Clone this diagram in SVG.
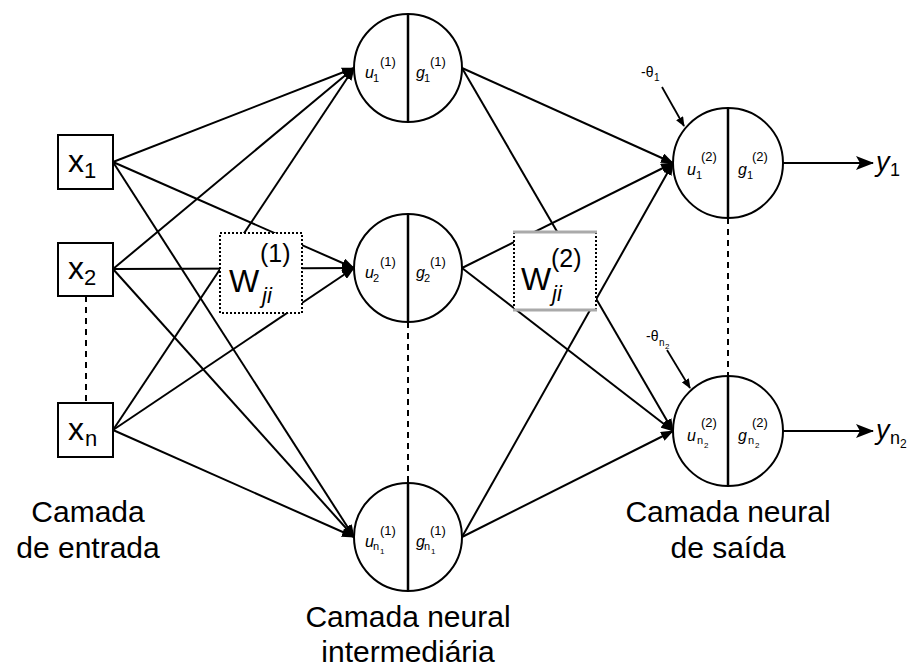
<svg xmlns="http://www.w3.org/2000/svg" width="918" height="668" viewBox="0 0 918 668">
  <defs>
    <marker id="arr" markerUnits="userSpaceOnUse" markerWidth="13" markerHeight="10" refX="12" refY="5" orient="auto">
      <path d="M0,0 L13,5 L0,10 z" fill="#000"/>
    </marker>
    <marker id="arrBig" markerUnits="userSpaceOnUse" markerWidth="18" markerHeight="14" refX="17" refY="7" orient="auto">
      <path d="M0,0 L18,7 L0,14 L4,7 z" fill="#000"/>
    </marker>
    <marker id="arrSmall" markerUnits="userSpaceOnUse" markerWidth="10" markerHeight="8" refX="9" refY="4" orient="auto">
      <path d="M0,0 L10,4 L0,8 z" fill="#000"/>
    </marker>
  </defs>
  <style>
    text { font-family: "Liberation Sans", Arial, sans-serif; fill: #000; }
    .conn { stroke: #000; stroke-width: 2; fill: none; marker-end: url(#arr); }
    .out { stroke: #000; stroke-width: 2.2; fill: none; marker-end: url(#arrBig); }
    .bias { stroke: #000; stroke-width: 1.8; fill: none; marker-end: url(#arrSmall); }
    .dash { stroke: #000; stroke-width: 2; stroke-dasharray: 6 5; fill: none; }
    .box { fill: #fff; stroke: #000; stroke-width: 2; }
    .neuron { fill: #fff; stroke: #000; stroke-width: 2; }
    .split { stroke: #000; stroke-width: 2.5; }
    .xin { font-size: 32px; }
    .xsub { font-size: 22px; }
    .lbl { font-size: 30px; text-anchor: middle; }
    .nv { font-size: 16px; font-style: italic; }
    .ns { font-size: 11px; }
    .nss { font-size: 8px; }
    .np { font-size: 13px; }
    .wl { font-size: 32px; }
    .wp { font-size: 25px; }
    .wj { font-size: 22px; font-style: italic; }
    .yl { font-size: 27px; font-style: italic; }
    .ys { font-size: 18px; }
    .th { font-size: 14px; }
    .ths { font-size: 10px; }
  </style>

  <rect width="918" height="668" fill="#fff"/>

  <!-- connectors -->
  <g id="connectors">
    <!-- inputs to hidden layer -->
    <line class="conn" x1="113" y1="162" x2="354" y2="68"/>
    <line class="conn" x1="113" y1="162" x2="354" y2="268"/>
    <line class="conn" x1="113" y1="162" x2="354" y2="537"/>
    <line class="conn" x1="113" y1="269" x2="354" y2="68"/>
    <line class="conn" x1="113" y1="269" x2="354" y2="268"/>
    <line class="conn" x1="113" y1="269" x2="354" y2="537"/>
    <line class="conn" x1="113" y1="430" x2="354" y2="68"/>
    <line class="conn" x1="113" y1="430" x2="354" y2="268"/>
    <line class="conn" x1="113" y1="430" x2="354" y2="537"/>
    <!-- hidden to output layer -->
    <line class="conn" x1="462" y1="68" x2="673" y2="163"/>
    <line class="conn" x1="462" y1="68" x2="673" y2="431"/>
    <line class="conn" x1="462" y1="268" x2="673" y2="163"/>
    <line class="conn" x1="462" y1="268" x2="673" y2="431"/>
    <line class="conn" x1="462" y1="537" x2="673" y2="163"/>
    <line class="conn" x1="462" y1="537" x2="673" y2="431"/>
    <!-- outputs -->
    <line class="out" x1="783" y1="163" x2="873" y2="163"/>
    <line class="out" x1="783" y1="431" x2="873" y2="431"/>
    <!-- biases -->
    <line class="bias" x1="662" y1="87" x2="684" y2="126"/>
    <line class="bias" x1="667" y1="350" x2="690" y2="388"/>
    <!-- ellipsis links -->
    <line class="dash" x1="86" y1="296" x2="86" y2="403"/>
    <line class="dash" x1="408" y1="322" x2="408" y2="483"/>
    <line class="dash" x1="728" y1="218" x2="728" y2="376"/>
  </g>

  <!-- input layer -->
  <g id="x1">
    <rect class="box" x="58" y="135" width="55" height="54"/>
    <text class="xin" x="68" y="172">x</text><text class="xsub" x="84" y="178">1</text>
  </g>
  <g id="x2">
    <rect class="box" x="58" y="243" width="55" height="53"/>
    <text class="xin" x="68" y="279">x</text><text class="xsub" x="84" y="285">2</text>
  </g>
  <g id="xn">
    <rect class="box" x="58" y="403" width="55" height="54"/>
    <text class="xin" x="68" y="440">x</text><text class="xsub" x="85" y="446">n</text>
  </g>

  <!-- weight matrices -->
  <g id="w1">
    <rect x="220" y="233" width="82" height="80" fill="#fff" stroke="#000" stroke-width="2" stroke-dasharray="2 2"/>
    <text class="wl" x="229" y="292">W</text>
    <text class="wp" x="260" y="262">(1)</text>
    <text class="wj" x="262" y="303">ji</text>
  </g>
  <g id="w2">
    <rect x="514" y="232" width="82" height="78" fill="#fff" stroke="none"/>
    <line x1="514" y1="232" x2="514" y2="310" stroke="#000" stroke-width="2" stroke-dasharray="2 2"/>
    <line x1="596" y1="232" x2="596" y2="310" stroke="#000" stroke-width="2" stroke-dasharray="2 2"/>
    <line x1="513" y1="232" x2="597" y2="232" stroke="#aaa" stroke-width="3"/>
    <line x1="513" y1="310" x2="597" y2="310" stroke="#aaa" stroke-width="3"/>
    <text class="wl" x="521" y="290">W</text>
    <text class="wp" x="551" y="267">(2)</text>
    <text class="wj" x="552" y="301">ji</text>
  </g>

  <!-- hidden layer -->
  <g id="h1">
    <circle class="neuron" cx="408" cy="68" r="54"/>
    <line class="split" x1="408" y1="14" x2="408" y2="122"/>
    <text class="nv" x="365" y="78">u</text><text class="ns" x="373" y="82">1</text><text class="np" x="380" y="66">(1)</text>
    <text class="nv" x="416" y="78">g</text><text class="ns" x="424" y="82">1</text><text class="np" x="430" y="66">(1)</text>
  </g>
  <g id="h2">
    <circle class="neuron" cx="408" cy="268" r="54"/>
    <line class="split" x1="408" y1="214" x2="408" y2="322"/>
    <text class="nv" x="365" y="278">u</text><text class="ns" x="373" y="282">2</text><text class="np" x="380" y="266">(1)</text>
    <text class="nv" x="416" y="278">g</text><text class="ns" x="424" y="282">2</text><text class="np" x="430" y="266">(1)</text>
  </g>
  <g id="hn">
    <circle class="neuron" cx="408" cy="537" r="54"/>
    <line class="split" x1="408" y1="483" x2="408" y2="591"/>
    <text class="nv" x="365" y="547">u</text><text class="ns" x="373" y="550">n</text><text class="nss" x="380" y="554">1</text><text class="np" x="380" y="535">(1)</text>
    <text class="nv" x="416" y="547">g</text><text class="ns" x="424" y="550">n</text><text class="nss" x="431" y="554">1</text><text class="np" x="430" y="535">(1)</text>
  </g>

  <!-- output layer -->
  <g id="o1">
    <circle class="neuron" cx="728" cy="163" r="55"/>
    <line class="split" x1="728" y1="108" x2="728" y2="218"/>
    <text class="nv" x="687" y="175">u</text><text class="ns" x="696" y="179">1</text><text class="np" x="701" y="161">(2)</text>
    <text class="nv" x="738" y="175">g</text><text class="ns" x="747" y="179">1</text><text class="np" x="752" y="161">(2)</text>
  </g>
  <g id="o2">
    <circle class="neuron" cx="728" cy="431" r="55"/>
    <line class="split" x1="728" y1="376" x2="728" y2="486"/>
    <text class="nv" x="687" y="441">u</text><text class="ns" x="697" y="444">n</text><text class="nss" x="704" y="448">2</text><text class="np" x="701" y="427">(2)</text>
    <text class="nv" x="738" y="441">g</text><text class="ns" x="748" y="444">n</text><text class="nss" x="755" y="448">2</text><text class="np" x="752" y="427">(2)</text>
  </g>

  <!-- biases -->
  <g id="theta1">
    <text class="th" x="641" y="77">-θ</text><text class="ths" x="654" y="81">1</text>
  </g>
  <g id="theta2">
    <text class="th" x="646" y="341">-θ</text><text class="ths" x="659" y="346">n</text><text class="nss" x="665" y="349">2</text>
  </g>

  <!-- outputs -->
  <g id="y1">
    <text class="yl" x="876" y="171">y</text><text class="ys" x="890" y="176">1</text>
  </g>
  <g id="yn">
    <text class="yl" x="876" y="439">y</text><text class="ys" x="890" y="444">n</text><text class="nss" x="900" y="448" style="font-size:12px">2</text>
  </g>

  <!-- layer captions -->
  <g id="captions">
    <text class="lbl" x="88" y="522">Camada</text>
    <text class="lbl" x="88" y="558">de entrada</text>
    <text class="lbl" x="408" y="627">Camada neural</text>
    <text class="lbl" x="408" y="662">intermediária</text>
    <text class="lbl" x="728" y="522">Camada neural</text>
    <text class="lbl" x="728" y="558">de saída</text>
  </g>
</svg>
